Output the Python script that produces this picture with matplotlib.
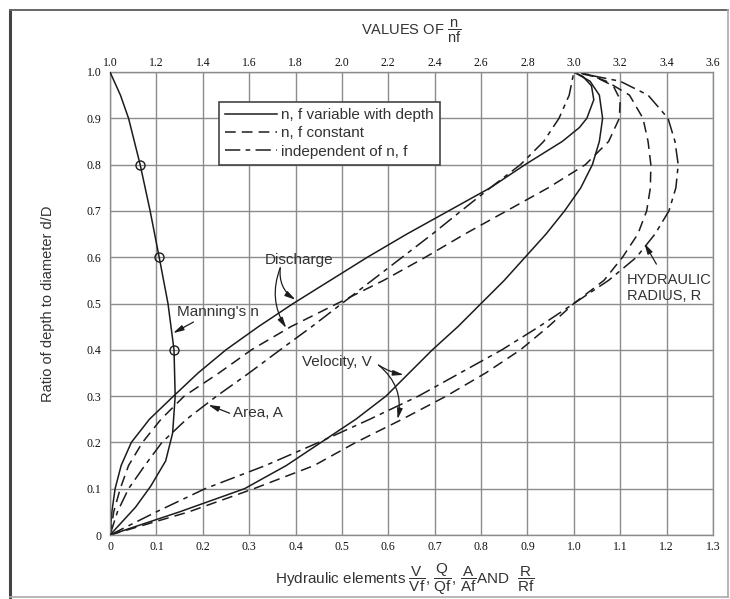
import numpy as np
import matplotlib
matplotlib.use("Agg")
import matplotlib.pyplot as plt
from matplotlib.lines import Line2D

plt.rcParams["font.family"] = ["Liberation Sans", "DejaVu Sans"]
plt.rcParams["mathtext.fontset"] = "custom"
plt.rcParams["mathtext.rm"] = "Liberation Sans"
plt.rcParams["mathtext.it"] = "Liberation Sans"

# ------------------------------------
# Data (x = hydraulic element ratio, y = d/D)
# ------------------------------------
# discharge, n and f variable with depth
q_var_y = [0, 0.05, 0.10, 0.15, 0.20, 0.25, 0.30, 0.35, 0.40, 0.45, 0.50, 0.55,
           0.60, 0.65, 0.70, 0.75, 0.80, 0.85, 0.88, 0.90, 0.94, 0.97, 0.99, 1.0]
q_var_x = [0, 0.004, 0.011, 0.024, 0.046, 0.085, 0.137, 0.19, 0.25, 0.32, 0.395, 0.475,
           0.555, 0.64, 0.73, 0.82, 0.895, 0.975, 1.012, 1.028, 1.043, 1.038, 1.02, 1.0]

# discharge, n and f constant
q_con_y = [0, 0.05, 0.10, 0.15, 0.20, 0.25, 0.30, 0.35, 0.40, 0.45, 0.50, 0.55,
           0.60, 0.65, 0.70, 0.75, 0.80, 0.85, 0.90, 0.94, 0.97, 0.99, 1.0]
q_con_x = [0, 0.008, 0.022, 0.04, 0.07, 0.11, 0.16, 0.235, 0.305, 0.39, 0.49, 0.59,
           0.68, 0.765, 0.855, 0.945, 1.025, 1.075, 1.098, 1.10, 1.085, 1.045, 1.0]

# area
area_y = [0, 0.05, 0.10, 0.15, 0.20, 0.25, 0.30, 0.35, 0.40, 0.45, 0.50,
          0.55, 0.60, 0.65, 0.70, 0.75, 0.80, 0.85, 0.90, 0.95, 1.0]
area_x = [0, 0.016, 0.04, 0.075, 0.112, 0.165, 0.23, 0.30, 0.367, 0.435, 0.50,
          0.565, 0.63, 0.695, 0.757, 0.82, 0.885, 0.935, 0.968, 0.99, 1.0]

# velocity, n and f variable with depth
v_var_y = [0, 0.05, 0.10, 0.15, 0.20, 0.25, 0.30, 0.35, 0.40, 0.45, 0.50, 0.55,
           0.60, 0.65, 0.70, 0.75, 0.80, 0.85, 0.90, 0.95, 0.98, 1.0]
v_var_x = [0, 0.15, 0.29, 0.38, 0.455, 0.53, 0.595, 0.645, 0.695, 0.75, 0.80, 0.85,
           0.895, 0.94, 0.98, 1.015, 1.04, 1.055, 1.062, 1.055, 1.035, 1.0]

# velocity, n and f constant
v_con_y = [0, 0.05, 0.10, 0.15, 0.20, 0.25, 0.30, 0.35, 0.40, 0.45, 0.50, 0.55,
           0.60, 0.65, 0.70, 0.75, 0.80, 0.85, 0.90, 0.95, 0.98, 0.995, 1.0]
v_con_x = [0, 0.17, 0.31, 0.44, 0.53, 0.63, 0.725, 0.81, 0.885, 0.945, 1.0, 1.065,
           1.105, 1.138, 1.157, 1.165, 1.166, 1.16, 1.149, 1.12, 1.07, 1.03, 1.0]

# hydraulic radius
rad_y = [0, 0.05, 0.10, 0.15, 0.20, 0.25, 0.30, 0.35, 0.40, 0.45, 0.50, 0.55,
         0.60, 0.65, 0.70, 0.75, 0.80, 0.85, 0.90, 0.95, 0.98, 1.0]
rad_x = [0, 0.10, 0.205, 0.335, 0.45, 0.56, 0.665, 0.755, 0.845, 0.925, 1.0, 1.075,
         1.135, 1.175, 1.205, 1.22, 1.225, 1.218, 1.203, 1.16, 1.10, 1.0]

# Manning's n / n_full (top axis)
mann_y = [0, 0.03, 0.06, 0.105, 0.16, 0.22, 0.30, 0.40, 0.50, 0.60, 0.70, 0.80, 0.90, 0.95, 1.0]
mann_x = [1.0, 1.055, 1.11, 1.175, 1.24, 1.27, 1.281, 1.276, 1.25, 1.212, 1.173, 1.13, 1.08, 1.045, 1.0]
mann_pts_y = [0.8, 0.6, 0.4]
mann_pts_x = [1.13, 1.212, 1.276]

x_ticks = [0, 0.1, 0.2, 0.3, 0.4, 0.5, 0.6, 0.7, 0.8, 0.9, 1.0, 1.1, 1.2, 1.3]
x_labels = ["0", "0.1", "0.2", "0.3", "0.4", "0.5", "0.6", "0.7", "0.8", "0.9", "1.0", "1.1", "1.2", "1.3"]
y_ticks = [0, 0.1, 0.2, 0.3, 0.4, 0.5, 0.6, 0.7, 0.8, 0.9, 1.0]
y_labels = ["0", "0.1", "0.2", "0.3", "0.4", "0.5", "0.6", "0.7", "0.8", "0.9", "1.0"]
top_ticks = [1.0, 1.2, 1.4, 1.6, 1.8, 2.0, 2.2, 2.4, 2.6, 2.8, 3.0, 3.2, 3.4, 3.6]
top_labels = ["1.0", "1.2", "1.4", "1.6", "1.8", "2.0", "2.2", "2.4", "2.6", "2.8", "3.0", "3.2", "3.4", "3.6"]

# ------------------------------------
# Figure
# ------------------------------------
W, H = 730, 599
fig = plt.figure(figsize=(W / 100, H / 100), dpi=100)
ax = fig.add_axes([110 / W, 1 - 535 / H, 603 / W, 463 / H])
ax.set_xlim(0, 1.3)
ax.set_ylim(0, 1.0)

grid_c = "#8c8c8c"
ink = "#1c1c1c"
txt_c = "#333333"
DASH = (0, (7, 4))
DASHDOT = (0, (10, 3.5, 3, 3.5))

ax.set_xticks(x_ticks)
ax.set_xticklabels(x_labels)
ax.set_yticks(y_ticks)
ax.set_yticklabels(y_labels)
ax.grid(color=grid_c, lw=1.0)
for s in ax.spines.values():
    s.set_color(grid_c)
    s.set_linewidth(1.0)
ax.tick_params(length=0, labelsize=8.5, colors="#111111")
ax.tick_params(axis="x", pad=4)
ax.tick_params(axis="y", pad=6)

lw = 1.1
ax.plot(q_var_x, q_var_y, color=ink, lw=lw, ls="-")
ax.plot(q_con_x, q_con_y, color=ink, lw=lw, ls=DASH)
ax.plot(area_x, area_y, color=ink, lw=lw, ls=DASHDOT)
ax.plot(v_var_x, v_var_y, color=ink, lw=lw, ls="-")
ax.plot(v_con_x, v_con_y, color=ink, lw=lw, ls=DASH)
ax.plot(rad_x, rad_y, color=ink, lw=lw, ls=DASHDOT)

# top axis: n / n_full
ax2 = ax.twiny()
ax2.set_xlim(1.0, 3.6)
ax2.set_xticks(top_ticks)
ax2.set_xticklabels(top_labels)
ax2.tick_params(length=0, labelsize=8.5, colors="#111111", pad=2)
for s in ax2.spines.values():
    s.set_visible(False)
ax2.plot(mann_x, mann_y, color=ink, lw=lw)
ax2.plot(mann_pts_x, mann_pts_y, ls="none", marker="o", ms=6.5, mfc="none", mec=ink, mew=1.0)

for lbl in ax.get_xticklabels() + ax.get_yticklabels() + ax2.get_xticklabels():
    lbl.set_fontfamily("Liberation Serif")

# legend
handles = [Line2D([], [], color=ink, lw=lw, ls="-"),
           Line2D([], [], color=ink, lw=lw, ls=DASH),
           Line2D([], [], color=ink, lw=lw, ls=DASHDOT)]
leg = ax.legend(handles, ["n, f variable with depth", "n, f constant", "independent of n, f"],
                loc="upper left", bbox_to_anchor=(0.181, 0.935), fontsize=11,
                handlelength=3.4, handletextpad=0.25, labelspacing=0.28,
                borderpad=0.4, borderaxespad=0, fancybox=False, framealpha=1)
leg.get_frame().set_edgecolor("#444444")
leg.get_frame().set_linewidth(1.2)
for t in leg.get_texts():
    t.set_color(txt_c)
leg.set_zorder(5)

# annotations
fs = 11
arrow = dict(arrowstyle="-|>,head_length=0.7,head_width=0.18", color=ink, lw=0.9,
             mutation_scale=9, shrinkA=0, shrinkB=0)
ax.text(0.408, 0.594, "Discharge", fontsize=fs, color=txt_c, ha="center", va="center")
ax.annotate("", xy=(0.40, 0.508), xytext=(0.367, 0.577),
            arrowprops=dict(arrow, connectionstyle="arc3,rad=0.3"))
ax.annotate("", xy=(0.38, 0.447), xytext=(0.367, 0.577),
            arrowprops=dict(arrow, connectionstyle="arc3,rad=0.25"))

ax.text(0.233, 0.482, "Manning's n", fontsize=fs, color=txt_c, ha="center", va="center")
ax.annotate("", xy=(0.136, 0.436), xytext=(0.18, 0.46), arrowprops=arrow)

ax.text(0.265, 0.263, "Area, A", fontsize=fs, color=txt_c, ha="left", va="center")
ax.annotate("", xy=(0.212, 0.281), xytext=(0.258, 0.263), arrowprops=arrow)

ax.text(0.49, 0.374, "Velocity, V", fontsize=fs, color=txt_c, ha="center", va="center")
ax.annotate("", xy=(0.633, 0.346), xytext=(0.579, 0.367),
            arrowprops=dict(arrow, connectionstyle="arc3,rad=0.1"))
ax.annotate("", xy=(0.62, 0.25), xytext=(0.579, 0.367),
            arrowprops=dict(arrow, connectionstyle="arc3,rad=-0.3"))

ax.text(1.115, 0.533, "HYDRAULIC\nRADIUS, R", fontsize=10.5, color=txt_c, ha="left",
        va="center", linespacing=1.15)
ax.annotate("", xy=(1.152, 0.63), xytext=(1.178, 0.585), arrowprops=arrow)

# axis titles
fig.text(411 / W, 1 - 31 / H, r"VALUES OF $\dfrac{\mathrm{n}}{\mathrm{nf}}$",
         fontsize=10.5, color=txt_c, ha="center", va="center")
fig.text(405 / W, 1 - 579 / H,
         r"Hydraulic elements $\dfrac{\mathrm{V}}{\mathrm{Vf}}$, $\dfrac{\mathrm{Q}}{\mathrm{Qf}}$, "
         r"$\dfrac{\mathrm{A}}{\mathrm{Af}}$AND  $\dfrac{\mathrm{R}}{\mathrm{Rf}}$",
         fontsize=11, color=txt_c, ha="center", va="center")
fig.text(48 / W, 1 - 304 / H, "Ratio of depth to diameter d/D", fontsize=10.5,
         color=txt_c, ha="center", va="center", rotation=90)

# outer frame
fig.add_artist(Line2D([10 / W, 10 / W], [1 - 10 / H, 1 - 597 / H], color="#444444", lw=2.2))
fig.add_artist(Line2D([10 / W, 728 / W], [1 - 10 / H, 1 - 10 / H], color="#666666", lw=1.4))
fig.add_artist(Line2D([10 / W, 728 / W], [1 - 597 / H, 1 - 597 / H], color="#aaaaaa", lw=1.2))
fig.add_artist(Line2D([728 / W, 728 / W], [1 - 10 / H, 1 - 597 / H], color="#aaaaaa", lw=1.2))

fig.savefig("out.png", dpi=100)
